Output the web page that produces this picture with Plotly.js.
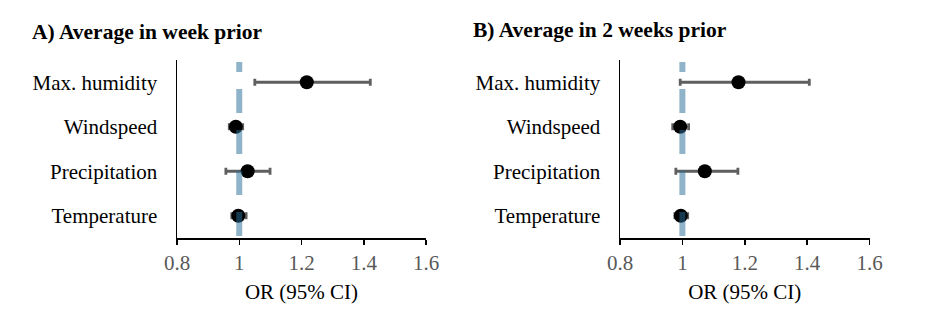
<!DOCTYPE html>
<html>
<head>
<meta charset="utf-8">
<script src="https://cdn.plot.ly/plotly-3.0.1.min.js"></script>
<style>html,body{margin:0;padding:0;background:#fff;}#chart{width:936px;height:328px;}</style>
</head>
<body>
<div id="chart"></div>
<script>
// Categories (bottom to top)
const categories = ["Temperature", "Precipitation", "Windspeed", "Max. humidity"];

// Panel A: average in week prior
const orA    = [0.997, 1.027, 0.989, 1.217];
const lowerA = [0.976, 0.957, 0.968, 1.050];
const upperA = [1.022, 1.099, 1.011, 1.421];

// Panel B: average in 2 weeks prior
const orB    = [0.995, 1.072, 0.993, 1.180];
const lowerB = [0.976, 0.979, 0.969, 0.993];
const upperB = [1.017, 1.178, 1.020, 1.407];

const panelTitles = ["A) Average in week prior", "B) Average in 2 weeks prior"];
const xTicks = [0.8, 1, 1.2, 1.4, 1.6];
const xTickText = ["0.8", "1", "1.2", "1.4", "1.6"];
const refValue = 1;

const FONT = "'Liberation Serif', 'Times New Roman', serif";
const FS = 21;
const W = 936, H = 328;

function trace(or, lo, hi, xa, ya) {
  return {
    type: "scatter", mode: "markers",
    x: or, y: categories, xaxis: xa, yaxis: ya,
    marker: {color: "#000000", size: 14},
    error_x: {
      type: "data", symmetric: false,
      array: or.map((v, i) => hi[i] - v),
      arrayminus: or.map((v, i) => v - lo[i]),
      color: "#5f5f5f", thickness: 2.8, width: 3.5
    },
    hoverinfo: "x+y", showlegend: false
  };
}

const data = [
  trace(orA, lowerA, upperA, "x", "y"),
  trace(orB, lowerB, upperB, "x2", "y2")
];

function xaxis(domain, anchor) {
  return {
    domain: domain, anchor: anchor, range: [0.8, 1.6],
    tickvals: xTicks, ticktext: xTickText,
    showgrid: false, zeroline: false,
    showline: true, linecolor: "#000", linewidth: 1.5,
    ticks: "outside", ticklen: 5, tickcolor: "#000", tickwidth: 1.5,
    tickfont: {family: FONT, size: FS, color: "#595959"},
    title: {text: "OR (95% CI)", font: {family: FONT, size: FS, color: "#000"}, standoff: 10},
    fixedrange: true
  };
}
function yaxis(anchor) {
  return {
    domain: [1 - 238 / H, 1 - 60 / H], anchor: anchor,
    type: "category", categoryorder: "array", categoryarray: categories,
    range: [-0.5, 3.5],
    showgrid: false, zeroline: false,
    showline: true, linecolor: "#000", linewidth: 1.5,
    ticks: "", ticklabelstandoff: 14,
    tickfont: {family: FONT, size: FS, color: "#000"},
    fixedrange: true
  };
}

function refLine(xref, yref) {
  return {
    type: "line", xref: xref, yref: yref + " domain",
    x0: refValue, x1: refValue, y0: 0.011, y1: 0.989,
    line: {color: "rgba(40,110,150,0.52)", width: 6, dash: "24px,17px"},
    layer: "above"
  };
}

const layout = {
  width: W, height: H,
  margin: {l: 0, r: 0, t: 0, b: 0},
  paper_bgcolor: "#fff", plot_bgcolor: "#fff",
  font: {family: FONT, size: FS, color: "#000"},
  xaxis: xaxis([177 / W, 426 / W], "y"),
  yaxis: yaxis("x"),
  xaxis2: xaxis([620 / W, 869.5 / W], "y2"),
  yaxis2: yaxis("x2"),
  shapes: [refLine("x", "y"), refLine("x2", "y2")],
  annotations: [
    {text: "<b>" + panelTitles[0] + "</b>", xref: "paper", yref: "paper",
     x: 30 / W, y: 1 - 32 / H, xanchor: "left", yanchor: "middle", showarrow: false,
     font: {family: FONT, size: 21.5, color: "#000"}},
    {text: "<b>" + panelTitles[1] + "</b>", xref: "paper", yref: "paper",
     x: 471 / W, y: 1 - 30 / H, xanchor: "left", yanchor: "middle", showarrow: false,
     font: {family: FONT, size: 21.5, color: "#000"}}
  ]
};

Plotly.newPlot("chart", data, layout, {displayModeBar: false, staticPlot: true});
</script>
</body>
</html>
